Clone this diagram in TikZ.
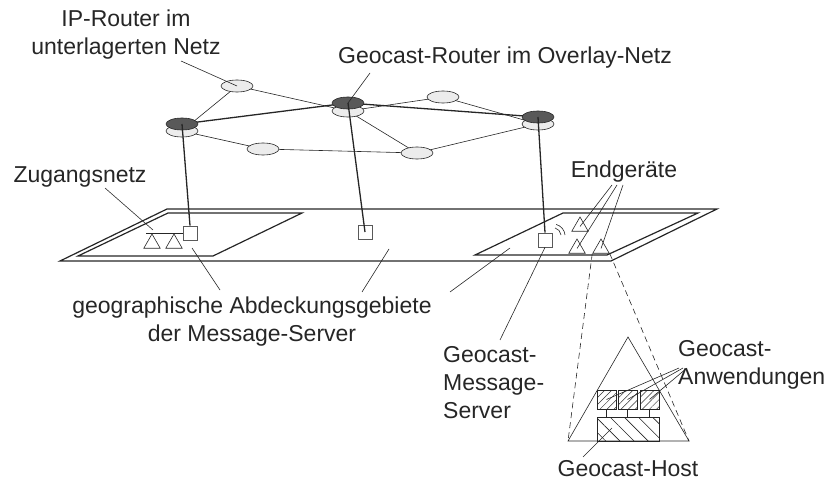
\documentclass[tikz,border=0pt]{standalone}
\usepackage{fontspec}
\setmainfont{Liberation Sans}
\usetikzlibrary{shapes.geometric,patterns.meta,backgrounds}
\begin{document}
\begin{tikzpicture}[x=1pt,y=-1pt,
  lbl/.style={text=black!85, inner sep=0pt, font=\fontsize{23}{28}\selectfont},
  ipnode/.style={ellipse, draw=black!85, fill=gray!15, line width=0.6pt,
    minimum width=32pt, minimum height=12pt, inner sep=0pt},
  gcnode/.style={ipnode, fill=black!65},
  msrv/.style={draw=black!65, fill=white, minimum size=14pt, inner sep=0pt, line width=0.7pt},
  dev/.style={regular polygon, regular polygon sides=3, draw=black!85, minimum size=19pt,
    inner sep=0pt, line width=0.6pt},
  appbox/.style={draw=black!85, minimum size=19pt, inner sep=0pt, line width=0.6pt,
    pattern={Lines[angle=45,distance=5pt,line width=0.5pt]}, pattern color=black!80},
  hostbox/.style={draw=black!85, minimum width=62pt, minimum height=24pt, inner sep=0pt,
    line width=0.6pt, pattern={Lines[angle=-45,distance=10pt,line width=0.6pt]},
    pattern color=black!85},
  thinln/.style={line width=0.6pt, draw=black!85},
  ovlink/.style={line width=1.3pt, draw=black!85},
  riser/.style={line width=1.3pt, draw=black!85},
  area/.style={line width=1.2pt, draw=black!85},
  pointer/.style={line width=0.6pt, draw=black!85},
  dsh/.style={line width=0.6pt, draw=black!85, dash pattern=on 6pt off 4pt},
]
\useasboundingbox (0,0) rectangle (830,500);

% coverage areas: overall plane and the two access areas
\draw[area] (60,261) -- (611,261) -- (717,209) -- (167,209) -- cycle;
\draw[area] (78,256) -- (213,256) -- (302,213) -- (168,213) -- cycle;
\draw[area] (475,255) -- (607,255) -- (698,213) -- (563,213) -- cycle;

% IP routers of the underlying network
\node[ipnode] (r1) at (237,86) {};
\node[ipnode] (r2) at (443,97) {};
\node[ipnode] (r3) at (263,149) {};
\node[ipnode] (r4) at (417,153) {};
\node[ipnode] (g1l) at (182,131) {};
\node[ipnode] (g2l) at (348,111) {};
\node[ipnode] (g3l) at (538,124) {};
% geocast routers of the overlay network
\node[gcnode] (g1) at (182,124) {};
\node[gcnode] (g2) at (348,103) {};
\node[gcnode] (g3) at (538,117) {};

\begin{scope}[on background layer]
  \draw[thinln] (g1l.center) -- (r1.center) -- (g2l.center) -- (r2.center) -- (g3l.center);
  \draw[thinln] (g1l.center) -- (r3.center) -- (r4.center) -- (g3l.center);
  \draw[thinln] (g2l.center) -- (r4.center);
  \draw[ovlink] (g1.center) -- (g2.center) -- (g3.center);
\end{scope}

% message servers
\node[msrv] (m1) at (190,233) {};
\node[msrv] (m2) at (365,232) {};
\node[msrv] (m3) at (545,240) {};

\draw[riser] (g1.center) -- (m1.north);
\draw[riser] (g2.center) -- (m2.center);
\draw[riser] (g3.center) -- (m3.north);

% access network with terminals
\node[dev] (t4) at (152,243.5) {};
\node[dev] (t5) at (174,243.5) {};
\draw[thinln] (146,233) -- (m1.west);

% end devices and radio link
\node[dev] (t1) at (580,226.5) {};
\node[dev] (t2) at (577,248.5) {};
\node[dev] (t3) at (601,248.5) {};
\draw[thinln] (561,235) arc[start angle=-5, end angle=-75, radius=8];
\draw[thinln] (565,235) arc[start angle=-5, end angle=-75, radius=12];

% magnified geocast host
\coordinate (ha) at (628,337);
\coordinate (hl) at (568,441);
\coordinate (hr) at (689,441);
\draw[thinln] (ha) -- (hr) -- (hl) -- cycle;
\node[hostbox] (hb) at (628,429) {};
\node[appbox] (a1) at (606.5,399.5) {};
\node[appbox] (a2) at (627.5,399.5) {};
\node[appbox] (a3) at (649.5,399.5) {};
\foreach \a in {a1,a2,a3} \draw[thinln] (\a.south) -- (\a.south |- hb.north);
\draw[dsh] (t3.corner 2) -- (hl);
\draw[dsh] (t3.corner 3) -- (hr);

% labels
\node[lbl, align=center] (lip) at (126,35) {IP-Router im\\unterlagerten Netz};
\node[lbl] (lgc) at (505,58) {Geocast-Router im Overlay-Netz};
\node[lbl] (lzn) at (80,177) {Zugangsnetz};
\node[lbl] (led) at (624,172) {Endgeräte};
\node[lbl, align=center] (lgeo) at (252,322) {geographische Abdeckungsgebiete\\der Message-Server};
\node[lbl, align=left, anchor=west] (lms) at (443,383) {Geocast-\\Message-\\Server};
\node[lbl, align=left, anchor=west] (lapp) at (678,365) {Geocast-\\Anwendungen};
\node[lbl] (lhost) at (628,469) {Geocast-Host};

% label pointers
\coordinate (pip) at (181,61);
\coordinate (pgc) at (370,73);
\coordinate (pzn) at (105,188);
\coordinate (pzn2) at (153,230);
\coordinate (pgeo1a) at (192,248); \coordinate (pgeo1b) at (220,290);
\coordinate (pgeo2a) at (389,249); \coordinate (pgeo2b) at (362,292);
\coordinate (pgeo3a) at (510,248); \coordinate (pgeo3b) at (450,292);
\coordinate (pms) at (500,340);
\coordinate (pho) at (583,457);
\coordinate (pho2) at (612,428);
\draw[pointer] (pip) -- (r1.center);
\draw[pointer] (pgc) -- (g2.center);
\draw[pointer] (pzn) -- (pzn2);
\draw[pointer] (pgeo1a) -- (pgeo1b);
\draw[pointer] (pgeo2a) -- (pgeo2b);
\draw[pointer] (pgeo3a) -- (pgeo3b);
\draw[pointer] (m3.south) -- (pms);
\draw[pointer] (612,185) -- (t1.center);
\draw[pointer] (617,185) -- (t2.center);
\draw[pointer] (623,185) -- (t3.center);
\draw[pointer] (679,368) -- (a1.center);
\draw[pointer] (683,368) -- (a2.center);
\draw[pointer] (687,368) -- (a3.center);
\draw[pointer] (pho) -- (pho2);
\end{tikzpicture}
\end{document}
